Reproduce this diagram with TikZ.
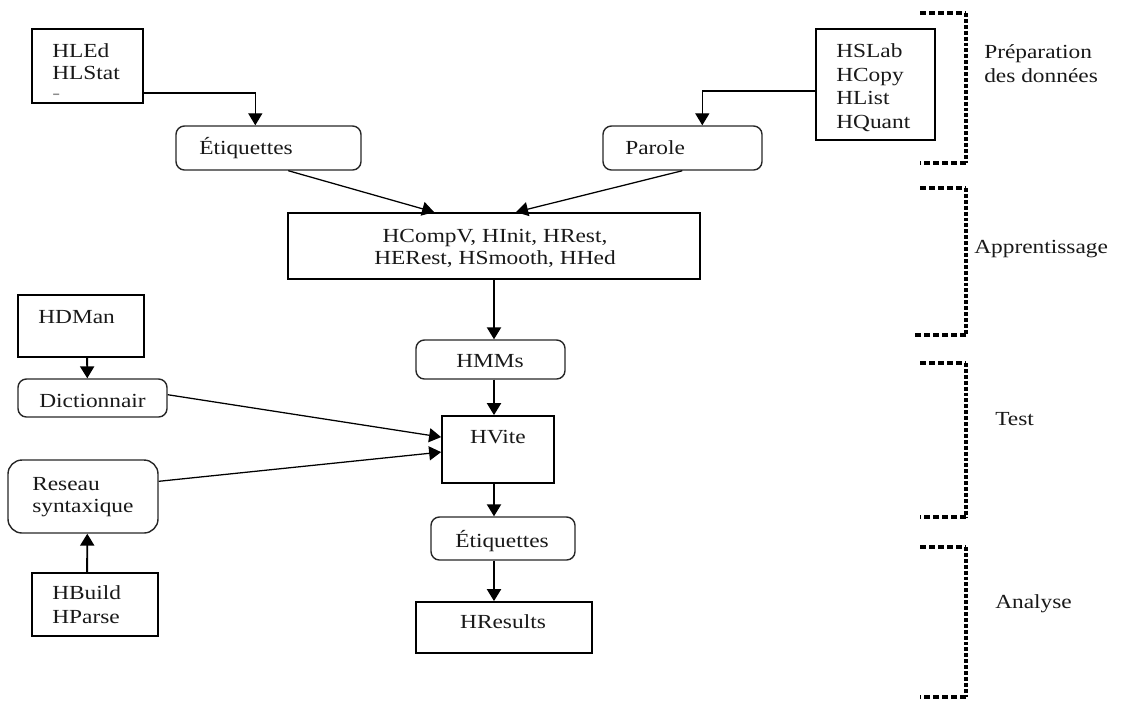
\documentclass[tikz,border=0pt]{standalone}
\usepackage{fontspec}
\setmainfont{Liberation Serif}[FakeStretch=1.17]
\usetikzlibrary{arrows.meta,fit,calc}
\newcommand\fz{\fontsize{14.2pt}{16.6pt}\selectfont}

\begin{document}
\begin{tikzpicture}[x=0.025cm, y=-0.025cm,
  sharpbox/.style={draw=black, line width=1.3pt, inner sep=0pt},
  roundbox/.style={draw=black!85, line width=1pt, rounded corners=6pt, inner sep=0pt},
  lbl/.style={inner sep=0pt, anchor=base west, font=\fz, text=black!90},
  clbl/.style={lbl, anchor=base},
  link/.style={line width=0.9pt, -{Triangle[length=8.5pt,width=10pt]}},
  vlink/.style={link, line width=1.3pt},
  dotsh/.style={line width=2.8pt, dash pattern=on 4.2pt off 2.2pt},
  dotsv/.style={line width=2.8pt, dash pattern=on 2.8pt off 1.4pt}]
\useasboundingbox (0,0) rectangle (1122,700);

% ---- tool boxes ----
\node[sharpbox, fit={(32,29) (143,103)}]   (hled) {};
\node[sharpbox, fit={(816,29) (935,140)}]  (hslab) {};
\node[sharpbox, fit={(288,213) (700,279)}] (hcomp) {};
\node[sharpbox, fit={(18,295) (144,357)}]  (hdman) {};
\node[sharpbox, fit={(442,416) (554,483)}] (hvite) {};
\node[sharpbox, fit={(32,573) (158,636)}]  (hbuild) {};
\node[sharpbox, fit={(416,602) (592,653)}] (hres) {};

% ---- data boxes ----
\node[roundbox, fit={(176,126) (361,170)}] (etiq1) {};
\node[roundbox, fit={(603,126) (762,170)}] (parole) {};
\node[roundbox, fit={(416,340) (565,379)}] (hmms) {};
\node[roundbox, fit={(18,379) (167,417)}]  (dict) {};
\node[roundbox, rounded corners=10pt, fit={(8,460) (158,533)}] (reseau) {};
\node[roundbox, fit={(431,517) (575,560)}] (etiq2) {};

% ---- texts ----
\node[lbl] (t-hled1) at (52,57) {HLEd};
\node[lbl] (t-hled2) at (52,79) {HLStat};
\node[lbl, text=black!45] (t-hled3) at (52,99) {-};
\node[lbl] (t-hslab1) at (836,57) {HSLab};
\node[lbl] (t-hslab2) at (836,81) {HCopy};
\node[lbl] (t-hslab3) at (836,104) {HList};
\node[lbl] (t-hslab4) at (836,128) {HQuant};
\node[lbl] (t-etiq1) at (199,154) {Étiquettes};
\node[lbl] (t-parole) at (625,154) {Parole};
\node[clbl] (t-hcomp1) at (495,242) {HCompV, HInit, HRest,};
\node[clbl] (t-hcomp2) at (495,264) {HERest, HSmooth, HHed};
\node[lbl] (t-hdman) at (38,323) {HDMan};
\node[clbl] (t-hmms) at (490,367) {HMMs};
\node[lbl] (t-dict) at (39,407) {Dictionnair};
\node[clbl] (t-hvite) at (498,443) {HVite};
\node[lbl] (t-res1) at (32,490) {Reseau};
\node[lbl] (t-res2) at (32,512) {syntaxique};
\node[clbl] (t-etiq2) at (502,547) {Étiquettes};
\node[lbl] (t-hb1) at (52,599) {HBuild};
\node[lbl] (t-hb2) at (52,623) {HParse};
\node[clbl] (t-hres) at (503,628) {HResults};

% ---- phase labels ----
\node[lbl] (p-prep1) at (984,58) {Préparation};
\node[lbl] (p-prep2) at (984,82) {des données};
\node[lbl] (p-app) at (974,253) {Apprentissage};
\node[lbl] (p-test) at (995,425) {Test};
\node[lbl] (p-ana) at (995,608) {Analyse};

% ---- connectors ----
\draw[link] ($(hled.south east)+(0,-11)$) -| ($(etiq1.north west)+(80,0)$);
\draw[link] ($(hslab.north west)+(0,63)$) -| ($(parole.north west)+(100,0)$);
\draw[link] ($(etiq1.south west)+(113,0)$) -- ($(hcomp.north west)+(147,0)$);
\draw[link] ($(parole.south west)+(80,0)$) -- ($(hcomp.north west)+(229,0)$);
\draw[vlink] (hcomp.south) -- (hcomp.south |- hmms.north);
\draw[vlink] (hmms.south -| hcomp.south) -- (hvite.north -| hcomp.south);
\draw[vlink] (hvite.south -| hcomp.south) -- (etiq2.north -| hcomp.south);
\draw[vlink] (etiq2.south -| hcomp.south) -- (hres.north -| hcomp.south);
\draw[vlink] ($(hdman.south west)+(70,0)$) -- ($(dict.north west)+(70,0)$);
\draw[link] ($(dict.south east)+(0,-23)$) -- ($(hvite.north west)+(0,22)$);
\draw[link] ($(reseau.north east)+(0,22)$) -- ($(hvite.north west)+(0,37)$);
\draw[vlink] ($(hbuild.north west)+(56,0)$) -- ($(reseau.south west)+(80,0)$);

% ---- dotted phase brackets ----
\foreach \top/\bot/\lft in {13/163/920, 188/335/915, 363/517/920, 547/697/920}{
  \draw[dotsh] (920,\top) -- (966,\top);
  \draw[dotsv] (966,\top) -- (966,\bot);
  \draw[dotsh] (966,\bot) -- (\lft,\bot);
}
\end{tikzpicture}
\end{document}
